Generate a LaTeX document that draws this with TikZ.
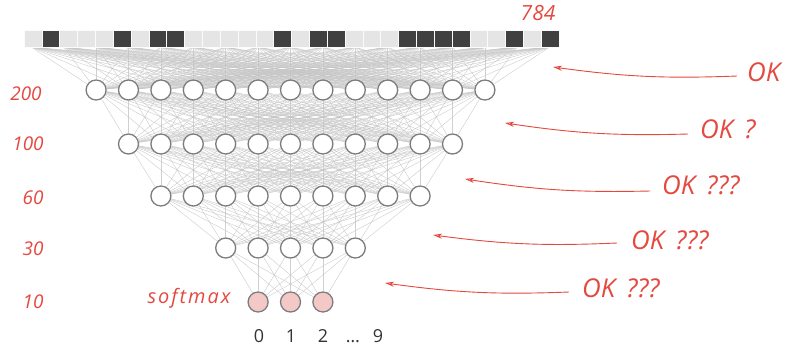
\documentclass[tikz,border=0pt]{standalone}
\usepackage{fontspec}
\setmainfont{Open Sans}
\newfontfamily\hand{Open Sans}
\usetikzlibrary{arrows.meta}
\pgfdeclarelayer{background}
\pgfsetlayers{background,main}
\definecolor{hred}{RGB}{228,72,62}
\definecolor{cellL}{RGB}{229,229,229}
\definecolor{cellD}{RGB}{64,64,64}
\definecolor{ring}{RGB}{125,125,125}
\definecolor{wire}{RGB}{196,196,196}
\definecolor{pinkf}{RGB}{245,200,200}
\tikzset{
  neuron/.style={circle,minimum size=20bp,inner sep=0pt,draw=ring,line width=1.3bp,fill=white},
  outneuron/.style={neuron,fill=pinkf},
  wirestyle/.style={draw=wire,line width=0.45bp,opacity=0.8},
  handlab/.style={text=hred,font=\hand\itshape\fontsize{19}{19}\selectfont,inner sep=0pt},
  oklab/.style={text=hred,font=\hand\itshape\fontsize{26}{26}\selectfont,inner sep=0pt},
  redarrow/.style={draw=hred,line width=0.9bp,-{Stealth[open,length=9bp,width=5bp,inset=2.5bp]}},
  digit/.style={text=black!80,font=\fontsize{18}{18}\selectfont,inner sep=0pt,anchor=base},
  lightcell/.style={fill=cellL,draw=white!85!cellL,line width=0.5bp},
  darkcell/.style={fill=cellD,draw=white!85!cellL,line width=0.5bp}
}
\begin{document}
\begin{tikzpicture}[x=1bp,y=-1bp]
\useasboundingbox (0,0) rectangle (785,345);
% input bar
\foreach \i in {0,...,29}{
  \pgfmathsetmacro\xa{24+17.83*\i}
  \pgfmathsetmacro\xb{24+17.83*(\i+1)}
  \path[lightcell] (\xa,30) rectangle (\xb,47);
}
\foreach \i in {1,5,7,8,14,16,17,21,22,23,24,27,29}{
  \pgfmathsetmacro\xa{24+17.83*\i}
  \pgfmathsetmacro\xb{24+17.83*(\i+1)}
  \path[darkcell] (\xa,30) rectangle (\xb,47);
}
% input points
\foreach \k in {0,...,16}{
  \coordinate (in\k) at ({290.5+(\k-8)*32.4},47);
}
% layers
\foreach \i in {0,...,12}{ \node[neuron] (a\i) at ({290.5+(\i-6)*32.4},90) {}; }
\foreach \i in {0,...,10}{ \node[neuron] (b\i) at ({290.5+(\i-5)*32.4},144) {}; }
\foreach \i in {0,...,8}{ \node[neuron] (c\i) at ({290.5+(\i-4)*32.4},196) {}; }
\foreach \i in {0,...,4}{ \node[neuron] (d\i) at ({290.5+(\i-2)*32.4},248) {}; }
\foreach \i in {0,...,2}{ \node[outneuron] (e\i) at ({290.5+(\i-1)*32.4},302) {}; }
% wires
\begin{pgfonlayer}{background}
\foreach \k in {0,...,16}{\foreach \i in {0,...,12}{\draw[wirestyle] (in\k) -- (a\i);}}
\foreach \k in {0,...,12}{\foreach \i in {0,...,10}{\draw[wirestyle] (a\k) -- (b\i);}}
\foreach \k in {0,...,10}{\foreach \i in {0,...,8}{\draw[wirestyle] (b\k) -- (c\i);}}
\foreach \k in {0,...,8}{\foreach \i in {0,...,4}{\draw[wirestyle] (c\k) -- (d\i);}}
\foreach \k in {0,...,4}{\foreach \i in {0,...,2}{\draw[wirestyle] (d\k) -- (e\i);}}
\end{pgfonlayer}
% output digits
\node[digit] (o0) at (259,342) {0};
\node[digit] (o1) at (291,342) {1};
\node[digit] (o2) at (323,342) {2};
\node[digit] (odots) at (353,342) {…};
\node[digit] (o9) at (378,342) {9};
% layer sizes
\node[handlab,font=\hand\itshape\fontsize{21}{21}\selectfont] (n784) at (538,13) {784};
\node[handlab] (n200) at (26,94) {200};
\node[handlab] (n100) at (28,144) {100};
\node[handlab] (n60) at (33,198) {60};
\node[handlab] (n30) at (33,249) {30};
\node[handlab] (n10) at (33,302) {10};
\node[handlab,font=\hand\itshape\fontsize{20}{20}\selectfont] (smax) at (189,298) {s\kern2bp o\kern2bp f\kern2bp t\kern2bp m\kern2bp a\kern2bp x};
% comments
\node[oklab,anchor=west] (ok1) at (747,72) {OK};
\node[oklab,anchor=west] (ok2) at (700,129) {OK\kern11bp ?};
\node[oklab,anchor=west] (ok3) at (662,185) {OK\kern11bp ???};
\node[oklab,anchor=west] (ok4) at (631,240) {OK\kern11bp ???};
\node[oklab,anchor=west] (ok5) at (582,288) {OK\kern11bp ???};
\coordinate (h1) at (553,67);
\coordinate (h2) at (505,123);
\coordinate (h3) at (465,179);
\coordinate (h4) at (433,235);
\coordinate (h5) at (385,283);
\draw[redarrow] ([xshift=-10bp,yshift=-4bp]ok1.west) to[bend left=5] (h1);
\draw[redarrow] ([xshift=-12bp,yshift=-5bp]ok2.west) to[bend left=5] (h2);
\draw[redarrow] ([xshift=-12bp,yshift=-6bp]ok3.west) to[bend left=5] (h3);
\draw[redarrow] ([xshift=-14bp,yshift=-3bp]ok4.west) to[bend left=5] (h4);
\draw[redarrow] ([xshift=-13bp,yshift=-4bp]ok5.west) to[bend left=5] (h5);
\end{tikzpicture}
\end{document}
